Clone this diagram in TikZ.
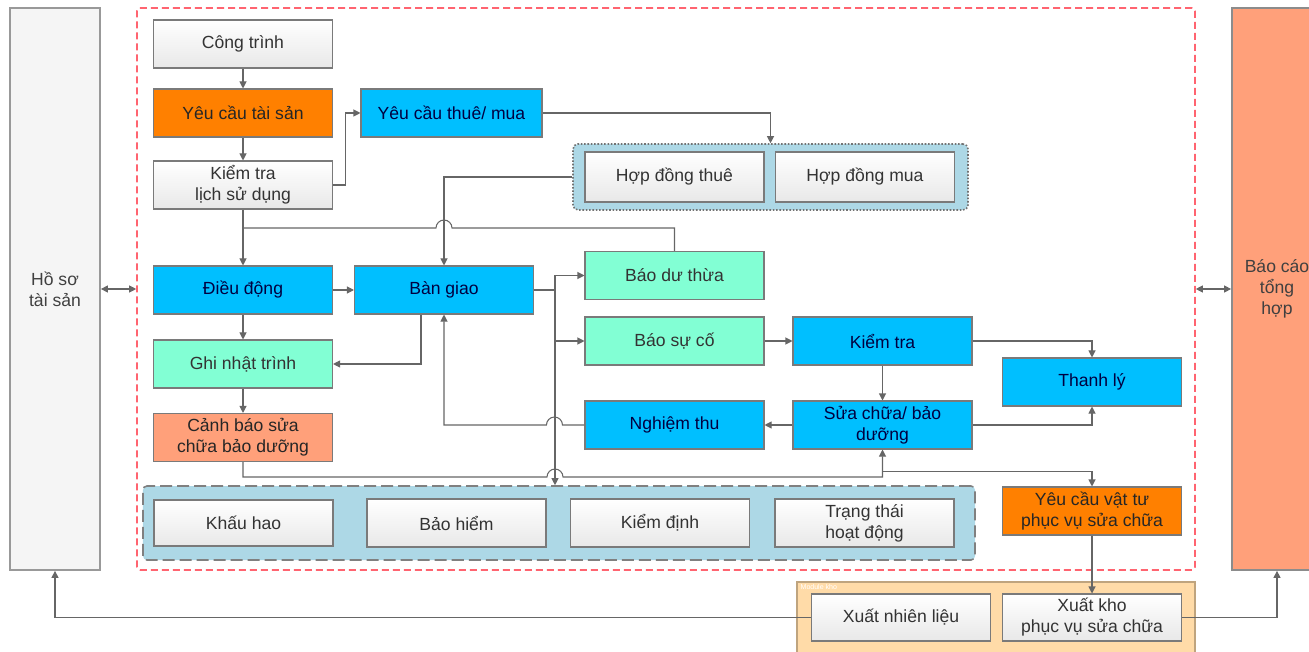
\documentclass[tikz,border=0pt]{standalone}
\usepackage{fontspec}
\setmainfont{Liberation Sans}
\usetikzlibrary{arrows.meta,calc}

\definecolor{boxcyan}{HTML}{00BFFF}
\definecolor{boxaqua}{HTML}{82FFD4}
\definecolor{boxorange}{HTML}{FF8000}
\definecolor{boxsalmon}{HTML}{FFA07A}
\definecolor{groupblue}{HTML}{ADD8E6}
\definecolor{groupkho}{HTML}{FFDBA8}
\definecolor{framered}{HTML}{FF6470}
\definecolor{linegray}{HTML}{666666}
\definecolor{bordergray}{HTML}{7A7A7A}

\begin{document}
\begin{tikzpicture}[x=0.2mm, y=-0.2mm,
                font=\fontsize{10}{12}\selectfont,
                box/.style={draw=bordergray, line width=0.6pt, minimum width=35.8mm, minimum height=9.6mm, inner sep=0pt, align=center, text=black!80},
                greybox/.style={box, top color=white, bottom color=black!9},
                cyanbox/.style={box, fill=boxcyan, text=blue!25!black},
                aquabox/.style={box, fill=boxaqua},
                orangebox/.style={box, fill=boxorange, text=black!85},
                salmonbox/.style={box, fill=boxsalmon, text=black!85},
                sidebox/.style={draw=black!40, line width=1pt, minimum width=18mm, minimum height=112.4mm, inner sep=0pt, align=center, text=black!75},
                line/.style={draw=linegray, line width=0.6pt},
                arr/.style={line, -{Triangle[length=1.4mm,width=1.4mm]}},
                both/.style={line, {Triangle[length=1.4mm,width=1.4mm]}-{Triangle[length=1.4mm,width=1.4mm]}}
            ]
                \useasboundingbox (0,0) rectangle (1309,652);

                \node [sidebox, fill=black!4] (hoso) at (55,289) {Hồ sơ\\tài sản};
                \node [sidebox, fill=boxsalmon, draw=black!45] (baocao) at (1277,289) {Báo cáo\\tổng\\hợp};
                \node [draw=framered, line width=0.9pt, dash pattern=on 1.4mm off 0.8mm, rounded corners=0.6mm, minimum width=211.6mm, minimum height=112.4mm, inner sep=0pt] (frame) at (666,289) {};

                \node [draw=black!55, densely dotted, line width=0.9pt, fill=groupblue, rounded corners=1mm, minimum width=79mm, minimum height=13.2mm, inner sep=0pt] (hdgroup) at (770.5,177) {};
                \node [draw=black!50, dash pattern=on 2.4mm off 1mm, line width=0.9pt, fill=groupblue, rounded corners=0.8mm, minimum width=166.4mm, minimum height=14.8mm, inner sep=0pt] (ttgroup) at (559,523) {};
                \node [draw=groupkho!75!black, line width=0.8pt, fill=groupkho, minimum width=79.6mm, minimum height=15.6mm, inner sep=0pt] (khogroup) at (996,621) {};
                \node [font=\fontsize{4}{5}\selectfont, text=white, anchor=north west, inner sep=0pt] (kholabel) at ($(khogroup.north west)+(4,3)$) {Module kho};

                \node [greybox] (cong) at (243,44) {Công trình};
                \node [orangebox] (yctaisan) at (243,113) {Yêu cầu tài sản};
                \node [greybox] (ktlich) at (243,185) {Kiểm tra\\lịch sử dụng};
                \node [cyanbox, minimum width=36.2mm] (ycthue) at (451.5,113) {Yêu cầu thuê/ mua};
                \node [greybox, minimum height=10mm] (hdthue) at (674.5,177) {Hợp đồng thuê};
                \node [greybox, minimum height=10mm] (hdmua) at (865,177) {Hợp đồng mua};

                \node [cyanbox] (dieudong) at (243,290) {Điều động};
                \node [cyanbox] (bangiao) at (444,290) {Bàn giao};
                \node [aquabox] (baodu) at (674.5,275.5) {Báo dư thừa};
                \node [aquabox] (baosuco) at (674.5,341) {Báo sự cố};
                \node [cyanbox] (kiemtra) at (882.5,341) {Kiểm tra};
                \node [cyanbox] (thanhly) at (1092,382) {Thanh lý};
                \node [cyanbox] (nghiemthu) at (674.5,425) {Nghiệm thu};
                \node [cyanbox] (suachua) at (882.5,425) {Sửa chữa/ bảo\\dưỡng};
                \node [aquabox] (ghinhat) at (243,364) {Ghi nhật trình};
                \node [salmonbox] (canhbao) at (243,437.5) {Cảnh báo sửa\\chữa bảo dưỡng};

                \node [greybox, minimum height=9.2mm] (khauhao) at (243.5,523) {Khấu hao};
                \node [greybox] (baohiem) at (456.5,523) {Bảo hiểm};
                \node [greybox] (kiemdinh) at (660,523) {Kiểm định};
                \node [greybox] (trangthai) at (864.5,523) {Trạng thái\\hoạt động};
                \node [orangebox] (ycvattu) at (1092,511) {Yêu cầu vật tư\\phục vụ sửa chữa};
                \node [greybox, minimum height=9.4mm] (xuatnl) at (901,617.5) {Xuất nhiên liệu};
                \node [greybox, minimum height=9.4mm] (xuatkho) at (1092,617.5) {Xuất kho\\phục vụ sửa chữa};

                \coordinate (j1) at (243,228);
                \coordinate (j2) at (555,290);
                \coordinate (j3) at (547,477);

                \draw [both] (hoso.east) -- (frame.west);
                \draw [both] (frame.east) -- (baocao.west);

                \draw [arr] (cong) -- (yctaisan);
                \draw [arr] (yctaisan) -- (ktlich);
                \draw [arr] (ktlich.east) -- ++(12,0) |- (ycthue.west);
                \draw [arr] (ycthue.east) -| (hdgroup.north);
                \draw [arr] (ktlich) -- (dieudong);
                \draw [line] (baodu.north) -- (baodu.north |- j1) -- (452,228) arc [start angle=0, end angle=-180, radius=8] -- (j1);
                \draw [arr] (hdgroup.west) -| (bangiao.north);
                \draw [arr] (dieudong) -- (bangiao);
                \draw [arr] (dieudong) -- (ghinhat);
                \draw [arr] ($(bangiao.south)+(-23,0)$) |- (ghinhat.east);
                \draw [arr] (ghinhat) -- (canhbao);

                \draw [line] (bangiao.east) -- (j2);
                \draw [arr] (j2 |- baodu.west) -- (j2 |- ttgroup.north);
                \draw [arr] (j2 |- baodu.west) -- (baodu.west);
                \draw [arr] (j2 |- baosuco.west) -- (baosuco.west);

                \draw [arr] (baosuco) -- (kiemtra);
                \draw [arr] (kiemtra) -- (suachua);
                \draw [arr] (kiemtra.east) -| (thanhly.north);
                \draw [arr] (suachua.east) -| (thanhly.south);
                \draw [arr] (suachua) -- (nghiemthu);
                \draw [arr] (nghiemthu.west) -- ++(-22,0) arc [start angle=0, end angle=-180, radius=8] -- (bangiao.south |- nghiemthu.west) -- (bangiao.south);
                \draw [arr] (canhbao.south) |- (j3) arc [start angle=180, end angle=360, radius=8] -- (suachua.south |- j3) -- (suachua.south);
                \draw [arr] ($(suachua.south)+(0,22)$) -| (ycvattu.north);
                \draw [arr] (ycvattu) -- (xuatkho);
                \draw [arr] (xuatnl.west) -| (hoso.south);
                \draw [arr] (xuatkho.east) -| (baocao.south);
            \end{tikzpicture}
\end{document}
